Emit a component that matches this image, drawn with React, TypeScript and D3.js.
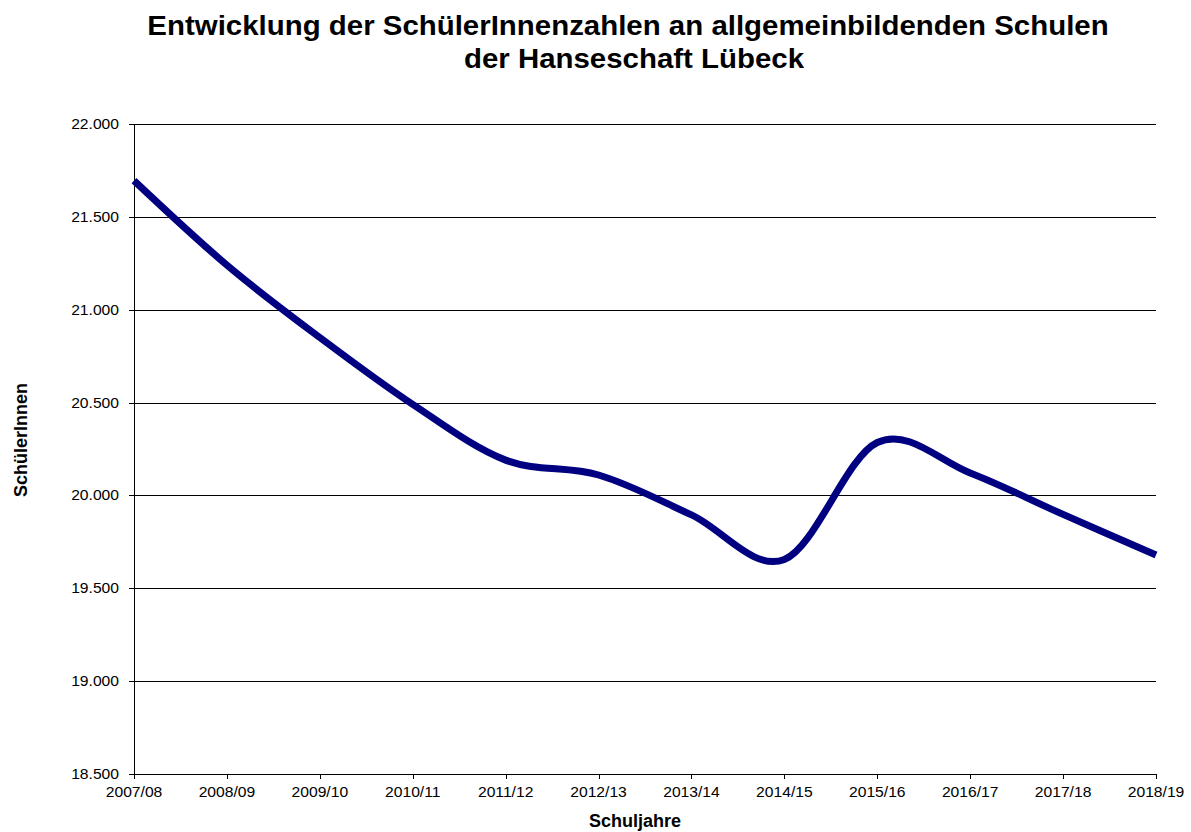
import React from "react";
import * as d3 from "d3";

const categories = ["2007/08","2008/09","2009/10","2010/11","2011/12","2012/13","2013/14","2014/15","2015/16","2016/17","2017/18","2018/19"];
const values = [21695, 21240, 20850, 20490, 20190, 20110, 19895, 19655, 20285, 20121, 19898, 19679];
const yTicks = [18500, 19000, 19500, 20000, 20500, 21000, 21500, 22000];

const W = 1191, H = 832;
const left = 134, right = 1156, top = 124, bottom = 774;

export default function App() {
  const x = d3.scalePoint<string>().domain(categories).range([left, right]);
  const y = d3.scaleLinear().domain([18500, 22000]).range([bottom, top]);
  const fmt = (v: number) => d3.format(",.3f")(v / 1000).replace(",", "");
  const line = d3.line<number>()
    .x((_, i) => x(categories[i]) as number)
    .y((d) => y(d))
    .curve(d3.curveCardinal.tension(0));
  const font = "Arial, 'Liberation Sans', sans-serif";
  const T = (px: number, py: number, sx: number, props: any, s: string) => (
    <text transform={`translate(${px},${py}) scale(${sx},1)`} {...props}>{s}</text>
  );
  return (
    <svg width={W} height={H} style={{ position: "absolute", left: 0, top: 0, background: "#fff" }} fontFamily={font}>
      <rect width={W} height={H} fill="#fff" />
      {T(628, 35, 1.09, { textAnchor: "middle", fontSize: 27, fontWeight: "bold" }, "Entwicklung der SchülerInnenzahlen an allgemeinbildenden Schulen")}
      {T(634, 68, 1.09, { textAnchor: "middle", fontSize: 27, fontWeight: "bold" }, "der Hanseschaft Lübeck")}
      {yTicks.map((t) => (
        <g key={t}>
          <line x1={left - 5} x2={right} y1={Math.round(y(t)) + 0.5} y2={Math.round(y(t)) + 0.5} stroke="#000" strokeWidth={1} />
          {T(left - 15, y(t) + 5, 1.08, { textAnchor: "end", fontSize: 14.5 }, fmt(t))}
        </g>
      ))}
      <line x1={left + 0.5} x2={left + 0.5} y1={top} y2={bottom} stroke="#000" />
      {categories.map((c) => (
        <g key={c}>
          <line x1={Math.round(x(c) as number) + 0.5} x2={Math.round(x(c) as number) + 0.5} y1={bottom} y2={bottom + 5} stroke="#000" />
          {T(x(c) as number, 797, 1.08, { textAnchor: "middle", fontSize: 14.5 }, c)}
        </g>
      ))}
      <path d={line(values) as string} fill="none" stroke="#000080" strokeWidth={7} strokeLinejoin="round" />
      <text x={635} y={827} textAnchor="middle" fontSize={18} fontWeight="bold">Schuljahre</text>
      <text transform={`translate(27,440) rotate(-90)`} textAnchor="middle" fontSize={18} fontWeight="bold">SchülerInnen</text>
    </svg>
  );
}
